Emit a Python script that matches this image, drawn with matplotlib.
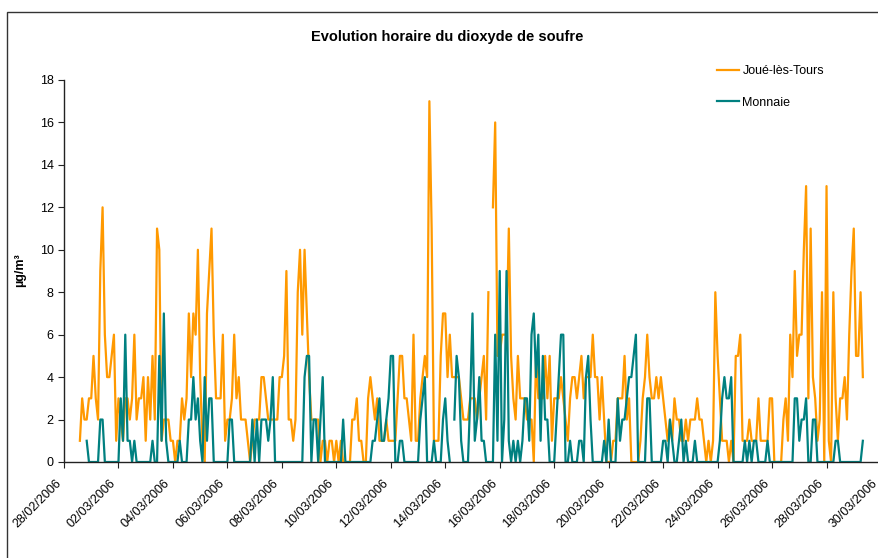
import matplotlib
matplotlib.use('Agg')
import matplotlib.pyplot as plt
from matplotlib.patches import Rectangle
from matplotlib.transforms import ScaledTranslation
import numpy as np
import pandas as pd

nan = np.nan

# 2-hourly readings (µg/m3), one row per day from 28/02/2006 00:00
joue_days = [
    [nan, nan, nan, nan, nan, nan, nan, 1, 3, 2, 2, 3],
    [3, 5, 3, 2, 9, 12, 6, 4, 4, 5, 6, 1],
    [3, 2, 1, 3, 3, 2, 3, 6, 2, 3, 3, 4],
    [1, 4, 2, 5, 2, 11, 10, 1, 2, 2, 2, 1],
    [1, 0, 1, 1, 3, 2, 3, 7, 4, 7, 6, 10],
    [4, 1, 0, 7, 9, 11, 6, 3, 3, 3, 6, 1],
    [2, 2, 3, 6, 3, 4, 2, 2, 2, 1, 0, 1],
    [2, 2, 2, 4, 4, 3, 2, 2, 2, 2, 2, 4],
    [4, 5, 9, 2, 2, 1, 2, 8, 10, 6, 10, 7],
    [4, 2, 2, 2, 2, 0, 1, 1, 0, 1, 1, 0],
    [1, 0, 1, 0, 0, 0, 0, 2, 2, 3, 1, 1],
    [0, 0, 3, 4, 3, 2, 3, 1, 1, 1, 2, 1],
    [1, 1, 1, 3, 5, 5, 3, 3, 2, 1, 6, 1],
    [1, 3, 4, 5, 4, 17, 11, 1, 1, 1, 5, 7],
    [7, 4, 6, 4, 4, 4, 4, 3, 2, 2, 2, 3],
    [3, 3, 2, 3, 4, 5, 2, 8, nan, 12, 16, 5],
    [5, 6, 6, 6, 11, 5, 3, 2, 5, 3, 3, 3],
    [2, 2, 2, 0, 5, 3, 3, 3, 5, 3, 5, 1],
    [3, 3, 3, 4, 3, 2, 1, 3, 4, 4, 3, 4],
    [5, 3, 4, 4, 4, 6, 4, 4, 2, 4, 2, 0],
    [0, 0, 1, 1, 3, 3, 3, 5, 2, 3, 0, 0],
    [0, 0, 1, 3, 4, 6, 4, 3, 3, 4, 3, 4],
    [3, 2, 1, 2, 1, 3, 2, 2, 1, 1, 2, 1],
    [2, 2, 2, 3, 2, 2, 1, 0, 1, 0, 1, 8],
    [5, 3, 1, 1, 1, 0, 1, 0, 5, 5, 6, 1],
    [1, 1, 2, 1, 1, 1, 3, 1, 1, 1, 1, 3],
    [3, 0, 0, 0, 0, 2, 3, 1, 6, 4, 9, 5],
    [6, 6, 10, 13, 3, 11, 4, 3, 1, 2, 8, 0],
    [13, 1, 0, 8, 3, 1, 3, 3, 4, 2, 6, 9],
    [11, 5, 5, 8, 4],
]

monnaie_days = [
    [nan, nan, nan, nan, nan, nan, nan, nan, nan, nan, 1, 0],
    [0, 0, 0, 0, 2, 2, 0, 0, 0, 0, 0, 0],
    [0, 3, 1, 6, 1, 1, 0, 1, 0, 0, 0, 0],
    [0, 0, 0, 1, 0, 0, 5, 1, 7, 1, 0, 0],
    [0, 0, 0, 1, 0, 0, 0, 2, 2, 4, 2, 3],
    [1, 0, 4, 1, 3, 3, 0, 0, 0, 0, 0, 0],
    [0, 2, 2, 0, 0, 0, 0, 0, 0, 0, 0, 2],
    [0, 2, 0, 2, 2, 2, 1, 2, 4, 0, 0, 0],
    [0, 0, 0, 0, 0, 0, 0, 0, 0, 0, 4, 5],
    [5, 0, 2, 2, 0, 2, 4, 0, 0, 0, 0, 0],
    [0, 0, 0, 2, 0, 0, 0, 0, 0, 0, 0, 0],
    [0, 0, 0, 0, 1, 1, 2, 3, 1, 1, 2, 3],
    [5, 5, 0, 0, 1, 1, 0, 0, 0, 0, 0, 0],
    [0, 2, 3, 4, 0, 0, 0, 1, 0, 0, 0, 2],
    [3, 1, 0, nan, 2, 5, 4, 1, 0, 0, 0, 3],
    [7, 1, 2, 4, 1, 1, 0, 0, 0, 0, 6, 1],
    [9, 0, 2, 9, 1, 0, 1, 0, 1, 0, 1, 3],
    [3, 1, 6, 7, 4, 6, 1, 5, 2, 2, 0, 0],
    [0, 2, 4, 6, 6, 0, 0, 1, 0, 0, 0, 1],
    [1, 0, 4, 5, 2, 0, 0, 0, 0, 0, 1, 0],
    [2, 0, 0, 0, 3, 1, 2, 2, 3, 4, 4, 5],
    [6, 0, 0, 0, 0, 3, 3, 0, 0, 0, 0, 0],
    [1, 1, 0, 2, 1, 0, 0, 1, 2, 0, 1, 0],
    [0, 0, 1, 0, 0, 0, 0, 0, 0, 0, 0, 0],
    [0, 1, 3, 4, 3, 3, 4, 0, 0, 0, 0, 0],
    [1, 0, 1, 0, 1, 1, 0, 0, 0, 0, 1, 0],
    [0, 0, 0, 0, 0, 0, 0, 0, 0, 0, 3, 3],
    [1, 2, 2, 3, 0, 0, 2, 2, 0, 0, 0, 0],
    [0, 0, 0, 0, 1, 1, 0, 0, 0, 0, 0, 0],
    [0, 0, 0, 0, 1],
]

tick_labels = ['28/02/2006', '02/03/2006', '04/03/2006', '06/03/2006', '08/03/2006',
               '10/03/2006', '12/03/2006', '14/03/2006', '16/03/2006', '18/03/2006',
               '20/03/2006', '22/03/2006', '24/03/2006', '26/03/2006', '28/03/2006',
               '30/03/2006']

joue = [v for day in joue_days for v in day]
monnaie = [v for day in monnaie_days for v in day]
times = pd.date_range('2006-02-28', periods=len(joue), freq='2h')
tick_dates = pd.to_datetime(tick_labels, format='%d/%m/%Y')

plt.rcParams['font.family'] = ['Liberation Sans', 'DejaVu Sans']

fig = plt.figure(figsize=(8.79, 5.58), dpi=100)
# the axis runs up to 30/03, a couple of pixels past the right edge of the image
ax = fig.add_axes([64 / 879, 1 - 462 / 558, (881 - 64) / 879, (462 - 80) / 558])

ax.plot(times, joue, color='#FF9900', lw=1.6, label='Joué-lès-Tours')
ax.plot(times, monnaie, color='#008080', lw=1.6, label='Monnaie')

ax.set_ylim(0, 18)
ax.set_yticks(range(0, 19, 2))
ax.set_xlim(tick_dates[0], tick_dates[-1])
ax.set_xticks(tick_dates)
ax.set_xticklabels([])

# rotated date labels, drawn as texts so they can sit a little left of their tick
lab_trans = ax.get_xaxis_transform() + ScaledTranslation(-9 / 100, -15.5 / 100,
                                                         fig.dpi_scale_trans)
for d, lab in zip(tick_dates, tick_labels):
    ax.text(d, 0, lab, transform=lab_trans, rotation=45, ha='right', va='top',
            rotation_mode='anchor', fontsize=9, clip_on=False)

for s in ['top', 'right']:
    ax.spines[s].set_visible(False)
for s in ['left', 'bottom']:
    ax.spines[s].set_color('#222222')
    ax.spines[s].set_linewidth(1.0)
ax.tick_params(axis='both', labelsize=9, length=4, color='#222222', direction='out')

fig.text(447 / 879, 1 - 37 / 558, 'Evolution horaire du dioxyde de soufre',
         ha='center', va='center', fontsize=10.5, fontweight='bold')
fig.text(20 / 879, 1 - 270 / 558, 'µg/m³', rotation=90, ha='center', va='center',
         fontsize=9, fontweight='bold')

ax.legend(loc='upper left', bbox_to_anchor=(711 / 879, 1 - 59 / 558),
          bbox_transform=fig.transFigure, frameon=False, fontsize=9,
          handlelength=1.76, handletextpad=0.25, labelspacing=1.56, borderpad=0)

fig.patches.append(Rectangle((7 / 879, -0.1), 1.2, 1 - 12 / 558 + 0.1,
                             transform=fig.transFigure, fill=False,
                             ec='#333333', lw=1.0))

fig.savefig('out.png', dpi=100)
